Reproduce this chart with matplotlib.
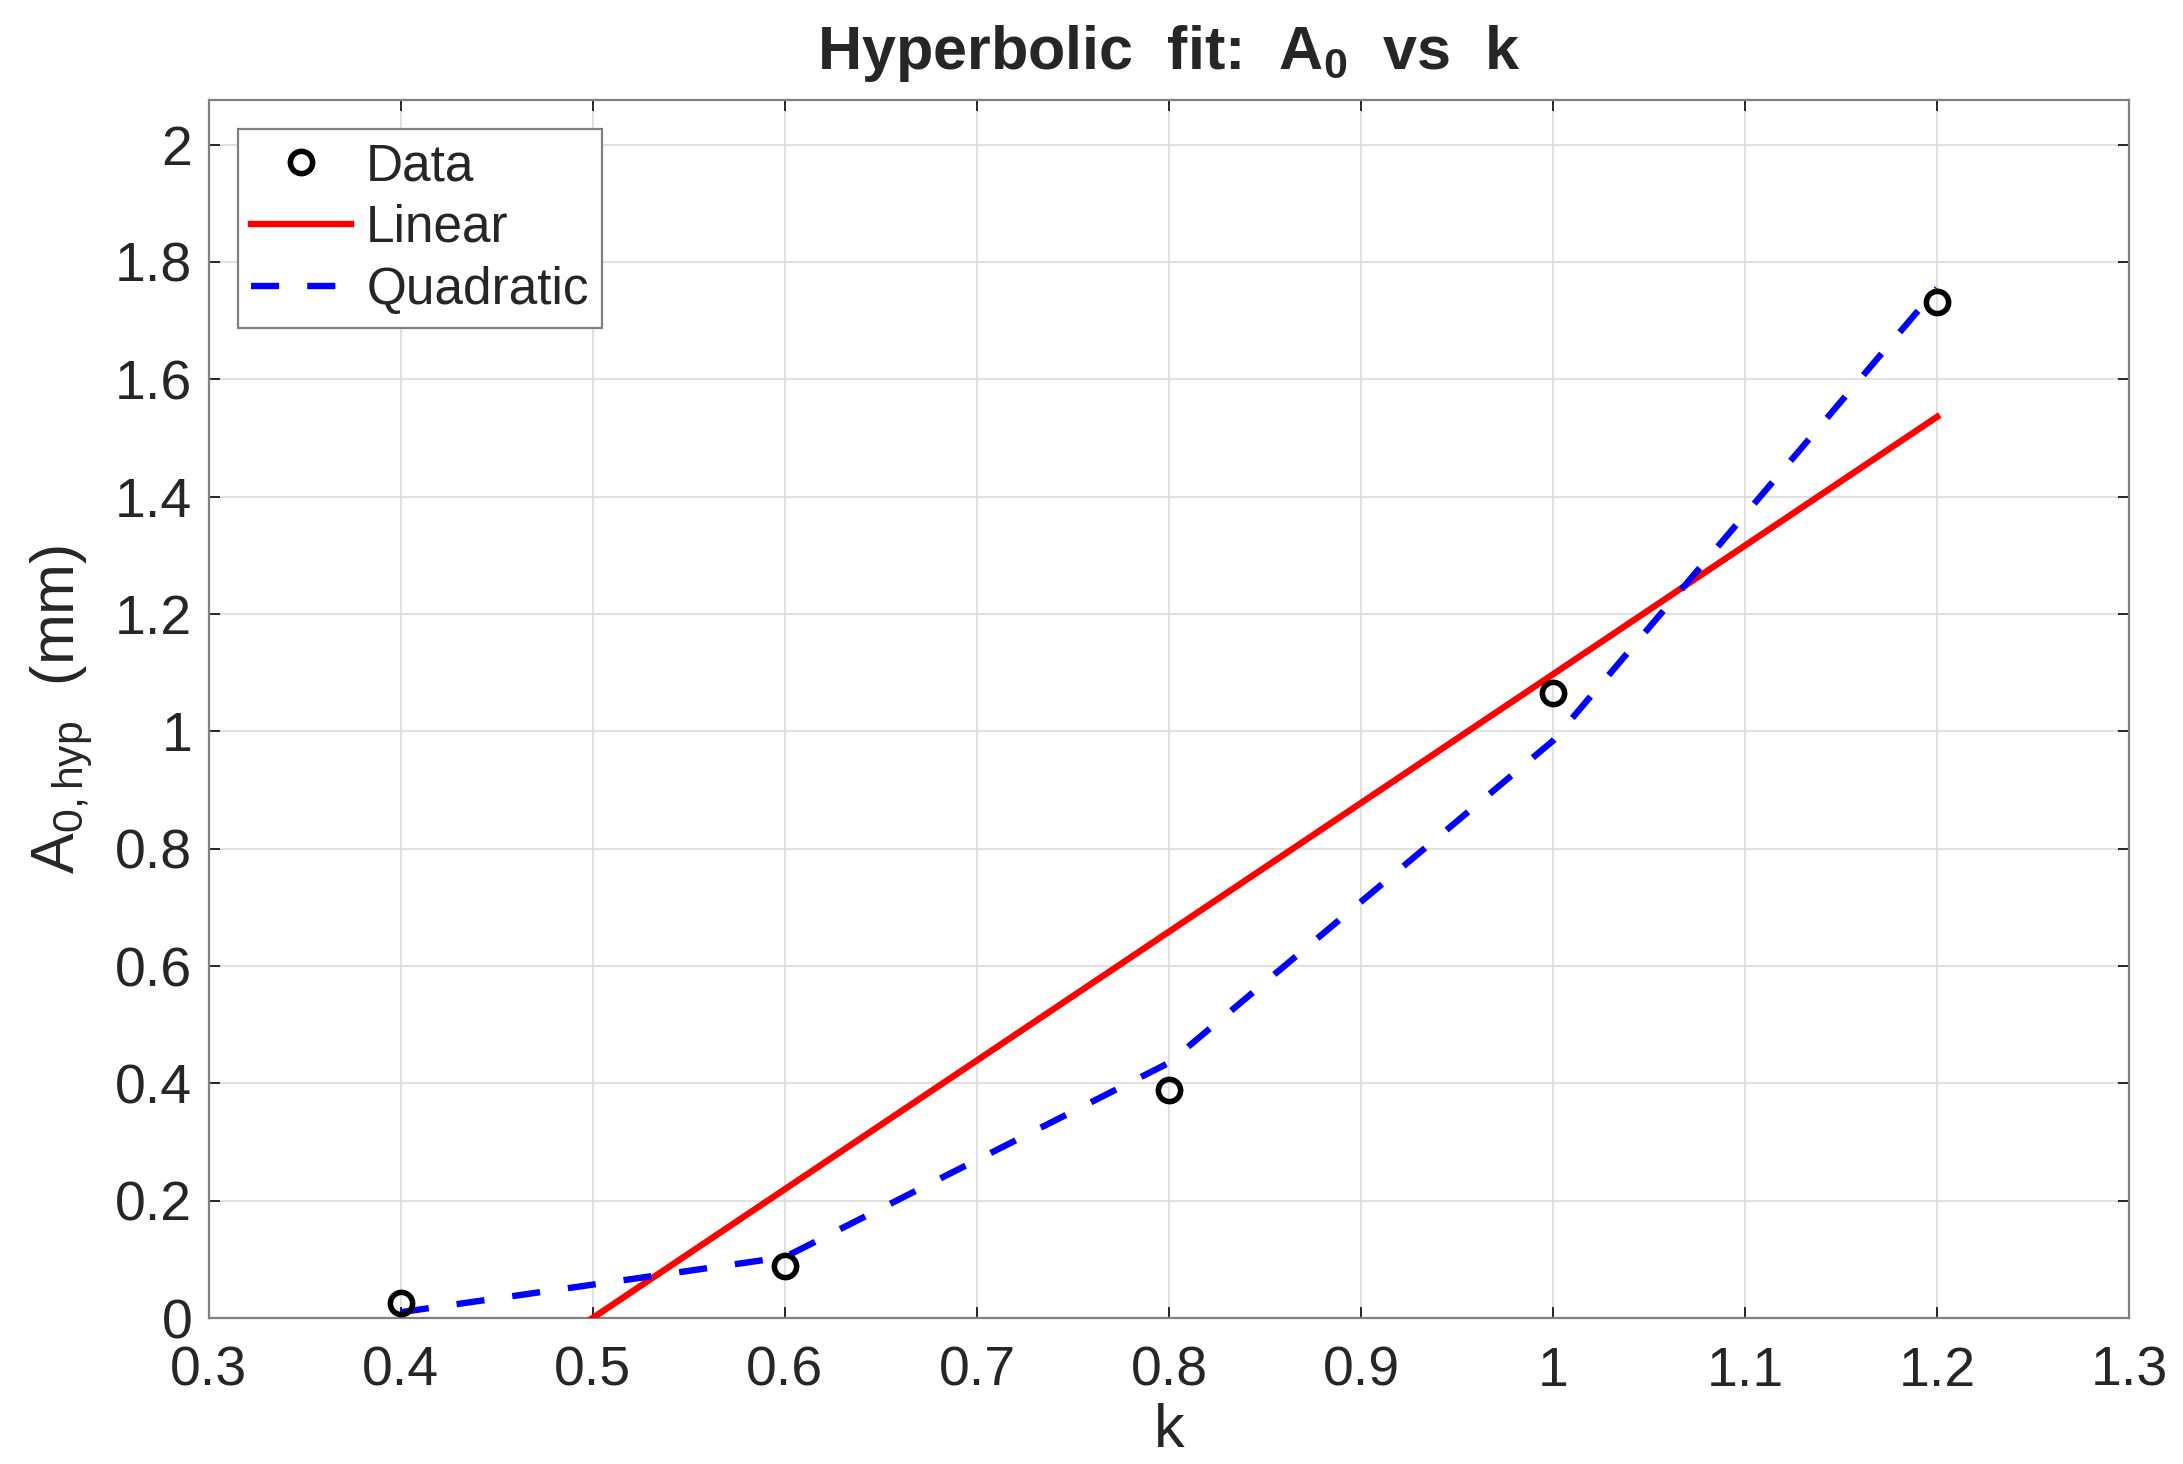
import matplotlib.pyplot as plt
from matplotlib.ticker import MultipleLocator, FormatStrFormatter
import numpy as np

plt.rcParams['font.family'] = ['Liberation Sans', 'DejaVu Sans']
plt.rcParams['mathtext.fontset'] = 'custom'
plt.rcParams['mathtext.rm'] = 'Liberation Sans'
plt.rcParams['mathtext.it'] = 'Liberation Sans'
plt.rcParams['mathtext.bf'] = 'Liberation Sans:bold'

# measured points
k_data = [0.4, 0.6, 0.8, 1.0, 1.2]
a0_data = [0.026, 0.088, 0.389, 1.065, 1.732]

# linear fit, end points
k_lin = [0.4, 1.2]
a0_lin = [-0.219, 1.536]

# quadratic fit evaluated at the data k values
k_quad = [0.4, 0.6, 0.8, 1.0, 1.2]
a0_quad = [0.01, 0.104, 0.435, 0.984, 1.755]

fig = plt.figure(figsize=(10.915, 7.32), dpi=200)
ax = fig.add_axes([0.0957, 0.0997, 0.8796, 0.832])

ax.plot(k_data, a0_data, 'o', markersize=8, markerfacecolor='none',
        markeredgecolor='black', markeredgewidth=2.0, label='Data', zorder=4)
ax.plot(k_lin, a0_lin, '-', color='#ff0000', linewidth=2.3, label='Linear', zorder=3)
ax.plot(k_quad, a0_quad, '--', color='#0000ff', linewidth=2.3, dashes=(4.4, 4.4),
        label='Quadratic', zorder=3)

ax.set_xlim(0.3, 1.3)
ax.set_ylim(0, 2.076)
ax.xaxis.set_major_locator(MultipleLocator(0.1))
ax.yaxis.set_major_locator(MultipleLocator(0.2))
ax.xaxis.set_major_formatter(FormatStrFormatter('%g'))
ax.yaxis.set_major_formatter(FormatStrFormatter('%g'))

ax.grid(True, color='#dcdcdc', linewidth=0.6)
ax.set_axisbelow(True)
for s in ax.spines.values():
    s.set_color('#808080')
    s.set_linewidth(0.8)
ax.tick_params(direction='in', length=4, width=0.7, color='#262626',
               top=True, right=True, labelsize=20, labelcolor='#262626')
ax.tick_params(axis='x', pad=10)
ax.tick_params(axis='y', pad=6)

ax.set_xlabel('k', fontsize=22, color='#262626', labelpad=2)
ax.set_ylabel(r'$\mathregular{A_{0,hyp}}$  (mm)', fontsize=22, color='#262626', labelpad=7)
ax.set_title(r'Hyperbolic  fit:  $\mathbf{A_0}$  vs  k', fontsize=22, fontweight='bold',
             color='#262626', pad=11)

leg = ax.legend(loc='upper left', bbox_to_anchor=(0.015, 0.976), borderaxespad=0,
                fontsize=18.5, fancybox=False, framealpha=1, edgecolor='#808080',
                handlelength=1.95, handletextpad=0.3, labelspacing=0.25, borderpad=0.25)
leg.get_frame().set_linewidth(0.8)
for t in leg.get_texts():
    t.set_color('#262626')

fig.savefig('out.png', dpi=200)
